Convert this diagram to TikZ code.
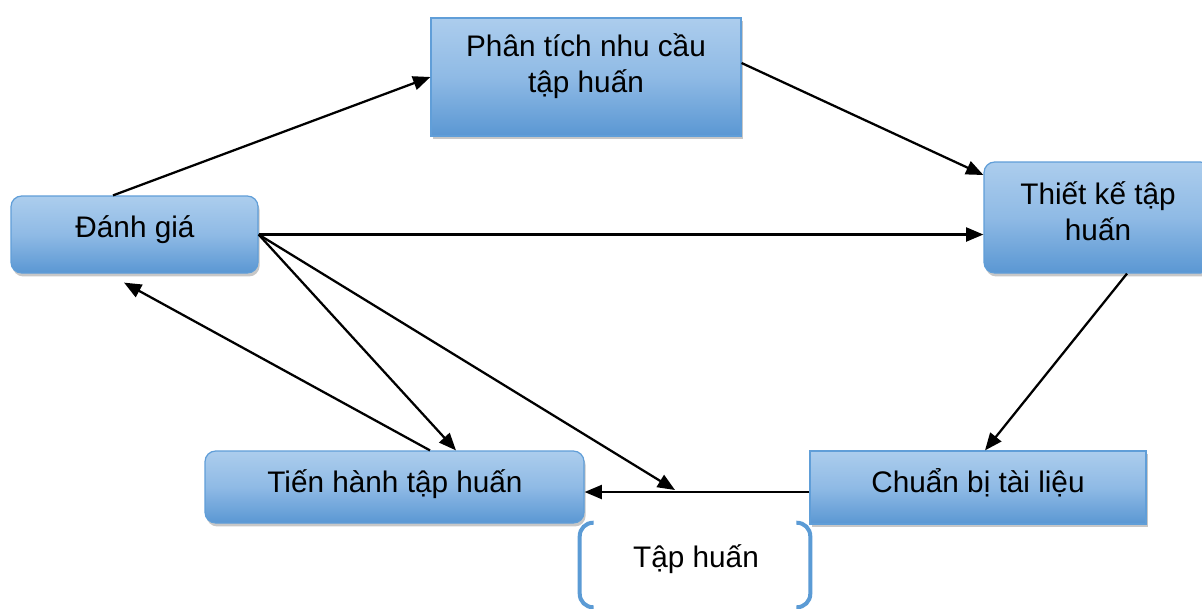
\documentclass[tikz,border=0pt]{standalone}
\usepackage{fontspec}
\setmainfont{Liberation Sans}
\usetikzlibrary{arrows.meta,calc,shadows}
\definecolor{boxtop}{RGB}{172,205,237}
\definecolor{boxmid}{RGB}{143,186,229}
\definecolor{boxbot}{RGB}{90,151,211}
\definecolor{boxedge}{RGB}{96,158,216}
\definecolor{bracketblue}{RGB}{91,155,213}
\tikzset{
  stepbox/.style={draw=boxedge, line width=0.9pt,
    top color=boxtop, bottom color=boxbot, middle color=boxmid,
    drop shadow={shadow xshift=1.2pt, shadow yshift=-2.6pt, opacity=0.4, fill=black!55},
    inner sep=0pt},
  roundbox/.style={stepbox, rounded corners=8pt},
  txt/.style={font=\fontsize{22.3}{27}\selectfont, align=center, inner sep=0pt},
  flow/.style={line width=1.7pt, -{Triangle[length=13pt,width=10.5pt]}},
  bracket/.style={draw=bracketblue, line width=3pt, rounded corners=10pt},
}
\begin{document}
\begin{tikzpicture}[x=0.75pt, y=-0.75pt]
  \fill[white] (0,0) rectangle (1202,608);
  \useasboundingbox (0,0) rectangle (1202,608);

  % boxes of the training cycle
  \node[stepbox, minimum width=232.5pt, minimum height=88.5pt] (pt) at (586,77) {};
  \node[roundbox, minimum width=185.25pt, minimum height=57.75pt] (dg) at (134.5,234.5) {};
  \node[roundbox, minimum width=170.25pt, minimum height=83.25pt] (tk) at (1097.5,217.5) {};
  \node[roundbox, minimum width=284.25pt, minimum height=54pt] (th) at (394.5,487) {};
  \node[stepbox, minimum width=252pt, minimum height=54.75pt] (cb) at (978,487.5) {};
  \node[minimum width=172.5pt, minimum height=63pt, inner sep=0pt] (tp) at (695,565) {};

  % captions
  \node[txt] (ptT) at (586,66) {Phân tích nhu cầu\\tập huấn};
  \node[txt, anchor=base] (dgT) at (135,237) {Đánh giá};
  \node[txt] (tkT) at (1098,211) {Thiết kế tập\\huấn};
  \node[txt, anchor=base] (thT) at (395,492) {Tiến hành tập huấn};
  \node[txt, anchor=base] (cbT) at (978,492) {Chuẩn bị tài liệu};
  \node[txt, anchor=base] (tpT) at (696,567) {Tập huấn};

  % bracket outline of the last box
  \draw[bracket] ($(tp.north west)+(14,0)$) -- (tp.north west) -- (tp.south west) -- ($(tp.south west)+(14,0)$);
  \draw[bracket] ($(tp.north east)+(-14,0)$) -- (tp.north east) -- (tp.south east) -- ($(tp.south east)+(-14,0)$);

  % connectors
  \draw[flow] ($(dg.north)+(-21.5,0)$) -- (pt.west);
  \draw[flow] ($(pt.east)+(0,-14)$) -- ($(tk.west)+(0,-42.5)$);
  \draw[flow] (dg.east) -- (dg.east -| tk.west);
  \draw[flow] ($(tk.south)+(29.5,0)$) -- ($(cb.north)+(7,0)$);
  \draw[flow] ($(cb.west)+(0,4.5)$) -- ($(th.east)+(0,5)$);
  \draw[flow] (dg.east) -- ($(th.north)+(61.5,0)$);
  \draw[flow] ($(th.north)+(35.5,0)$) -- ($(dg.south)+(-10.5,9)$);
  \coordinate (meet) at (675,490);
  \draw[flow] (dg.east) -- (meet);
\end{tikzpicture}
\end{document}
